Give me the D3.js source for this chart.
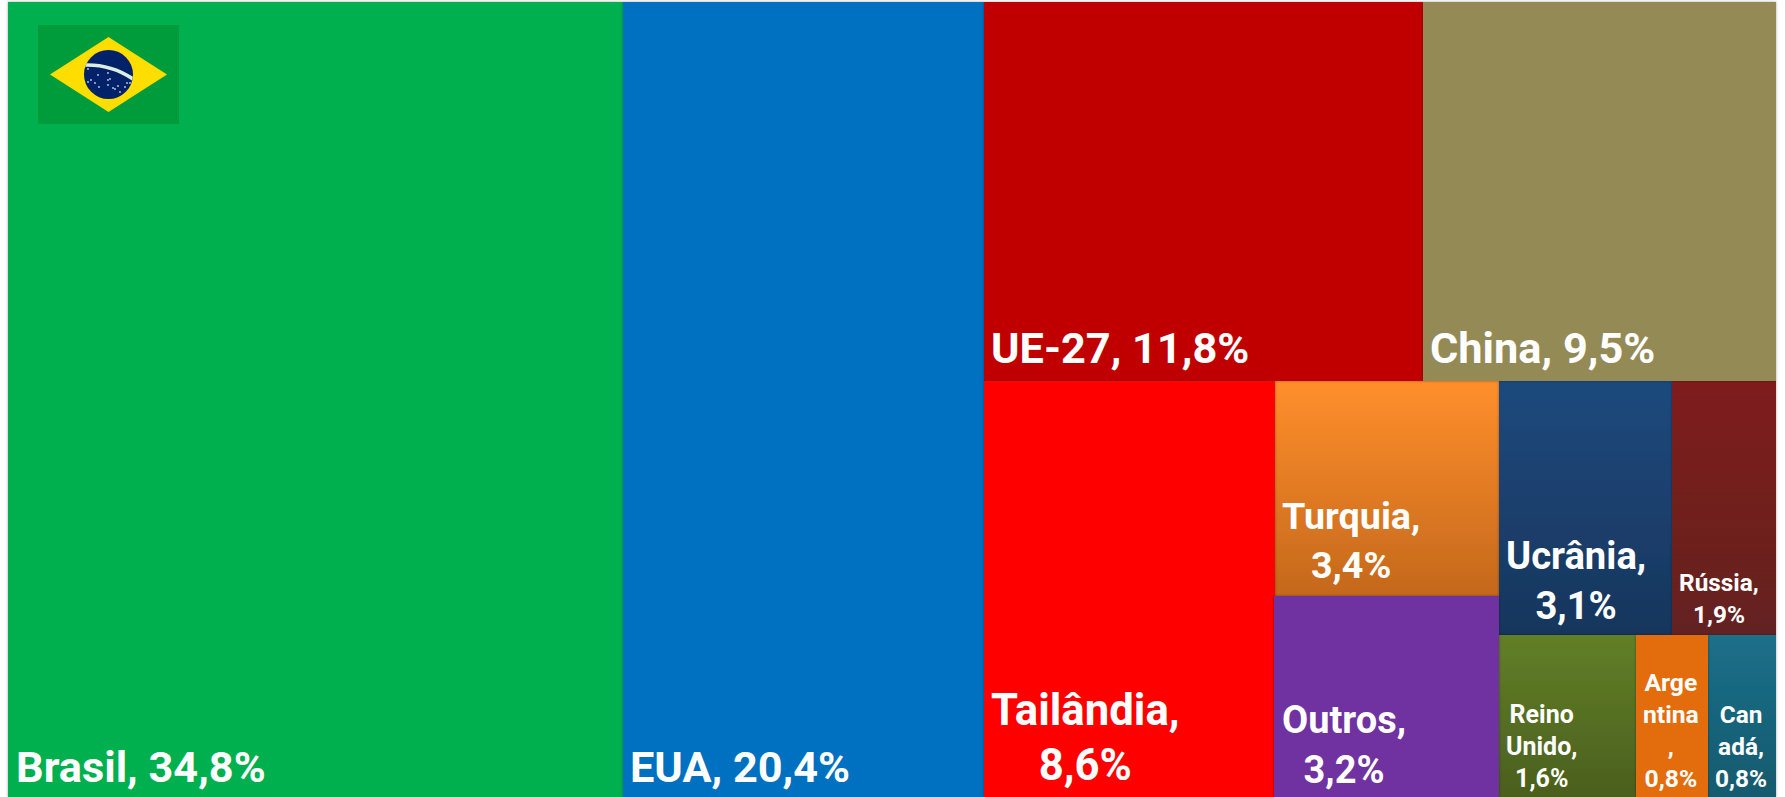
<!DOCTYPE html>
<html><head><meta charset="utf-8">
<script src="https://cdnjs.cloudflare.com/ajax/libs/d3/7.8.5/d3.min.js"></script>
<style>html,body{margin:0;padding:0;background:#fff;overflow:hidden}svg{display:block}text{font-family:Roboto,sans-serif;font-weight:700;fill:#fff}</style>
</head><body><svg id="c" width="1785" height="797"></svg>
<script>
// Data (areas; the printed labels are rounded)
const categories = ["Brasil","EUA","UE-27","China","Tailândia","Turquia","Outros","Ucrânia","Rússia","Reino Unido","Argentina","Canadá"];
const shares     = [34.8,20.4,11.84,9.53,8.62,3.44,3.2,3.13,1.88,1.58,0.84,0.78];
const labelLines = [["Brasil, 34,8%"],["EUA, 20,4%"],["UE-27, 11,8%"],["China, 9,5%"],["Tailândia,","8,6%"],["Turquia,","3,4%"],["Outros,","3,2%"],["Ucrânia,","3,1%"],["Rússia,","1,9%"],["Reino","Unido,","1,6%"],["Arge","ntina",",","0,8%"],["Can","adá,","0,8%"]];
// Style
const topColors    = ["#00B050","#0070C0","#C00000","#948A54","#FF0000","#FF8F2B","#7030A0","#1F497D","#7F1F1D","#617F27","#E36C09","#1B6F8A"];
const bottomColors = ["#00B050","#0070C0","#C00000","#948A54","#FF0000","#C4681C","#7030A0","#17365D","#632020","#4B5F1E","#E36C09","#155A6E"];
const fontSizes    = [43.3,43.3,43.3,43.3,43.7,37.7,38,38.2,24.4,25,24.7,24.4];
const lineHeights  = [50,50,50,50,55,49,50,50,32,32,32,32];
const bottomGaps   = [15,15,18,18,17,18,14,16,12,10,10,10];
const insets       = [8,7,7,7,7,7,7,7,7,7,7,7];

// nesting of the tree by category index
const tree = [0,1,[[2,3],[4,[5,6],[[7,8],[9,10,11]]]]];
const toNode = t => Array.isArray(t) ? {children:t.map(toNode)} : {i:t, value:shares[t]};
const root = d3.hierarchy(toNode(tree)).sum(d=>d.value||0);
const margin = {left:8, top:2, right:9, bottom:0};
const W = 1785-margin.left-margin.right, H = 797-margin.top-margin.bottom;
d3.treemap().tile(d3.treemapSliceDice).size([W,H]).round(true)(root);

const svg = d3.select("#c");
const defs = svg.append("defs");
const leaves = root.leaves();
const isGrad = d => topColors[d.data.i]!==bottomColors[d.data.i];
leaves.forEach(n=>{
  const i=n.data.i;
  const g=defs.append("linearGradient").attr("id","g"+i).attr("x1",0).attr("x2",0).attr("y1",0).attr("y2",1);
  g.append("stop").attr("offset",0).attr("stop-color",topColors[i]);
  g.append("stop").attr("offset",1).attr("stop-color",bottomColors[i]);
});
const f=defs.append("filter").attr("id","sh").attr("x","-5%").attr("y","-5%").attr("width","110%").attr("height","110%");
f.append("feDropShadow").attr("dx",0).attr("dy",0).attr("stdDeviation",1.5).attr("flood-color","#000").attr("flood-opacity",0.35);

const plot = svg.append("g").attr("transform",`translate(${margin.left},${margin.top})`);
// gradient cells are painted first; the flat cells lie over them and cast the soft edge
const painted = [...leaves.filter(isGrad), ...leaves.filter(d=>!isGrad(d))];
const bleedLeft = d => categories[d.data.i]==="Outros" ? 1 : 0;
plot.selectAll("rect.cell").data(painted).join("rect").attr("class","cell")
  .attr("x",d=>d.x0-bleedLeft(d)).attr("y",d=>d.y0).attr("width",d=>d.x1-d.x0+bleedLeft(d)).attr("height",d=>d.y1-d.y0)
  .attr("fill",d=>`url(#g${d.data.i})`).attr("filter","url(#sh)");

const labels = plot.selectAll("g.lab").data(leaves).join("g").attr("class","lab");
labels.each(function(d){
  const i=d.data.i, lines=labelLines[i], g=d3.select(this);
  const fs=fontSizes[i], lh=lineHeights[i], inset=insets[i];
  const base=d.y1-bottomGaps[i]-lh*(lines.length-1);
  const ts=lines.map((s,k)=>g.append("text").attr("font-size",fs).attr("y",base+k*lh).text(s));
  const maxW=d3.max(ts,t=>t.node().getComputedTextLength());
  ts.forEach(t=>t.attr("text-anchor","middle").attr("x",d.x0+inset+maxW/2));
});

// Flag of Brazil inside the first cell
const flag = svg.append("g").attr("transform","translate(38,25)");
flag.append("rect").attr("width",141).attr("height",99).attr("fill","#009B3A");
flag.append("polygon").attr("points","12,49.5 70.5,12 129,49.5 70.5,87").attr("fill","#FEDD00");
flag.append("circle").attr("cx",70.5).attr("cy",49.5).attr("r",24.5).attr("fill","#012169");
const clip=defs.append("clipPath").attr("id","fc");
clip.append("circle").attr("cx",70.5).attr("cy",49.5).attr("r",24.5);
flag.append("path").attr("d","M46,40 Q73,39 95,54").attr("fill","none").attr("stroke","#DCEFDF").attr("stroke-width",3.6).attr("clip-path","url(#fc)");
const stars=[[50,44],[60,50],[50,57],[53,55],[57,58],[61,62],[70,55],[70,60],[72,54],[77,64],[82,67],[87,62],[89,58],[92,58],[70,48],[75,63],[80,61]];
flag.selectAll("circle.s").data(stars).join("circle").attr("class","s").attr("cx",d=>d[0]).attr("cy",d=>d[1]).attr("r",.9).attr("fill","#c4cde4");
</script></body></html>
